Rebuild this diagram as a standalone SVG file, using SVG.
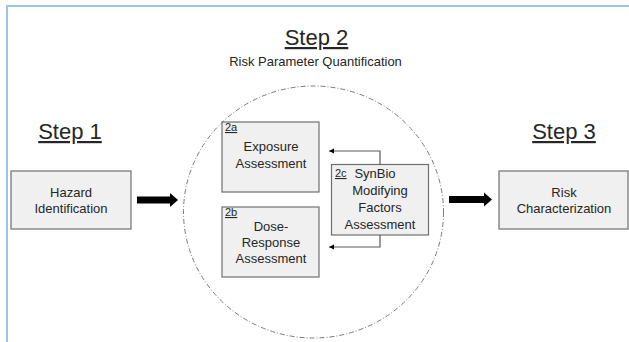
<svg xmlns="http://www.w3.org/2000/svg" width="629" height="342" viewBox="0 0 629 342">
<defs>
<style>
text{font-family:"Liberation Sans",Arial,sans-serif;fill:#262626;}
.step{font-size:22px;text-anchor:middle;text-decoration:underline;}
.sub{font-size:13px;text-anchor:middle;}
.lbl{font-size:13px;text-anchor:middle;}
.tag{font-size:11px;text-decoration:underline;}
.box{fill:#f0f0f0;stroke:#6f6f6f;stroke-width:1.2;}
.conn{fill:none;stroke:#595959;stroke-width:1.2;}
.big{fill:#000;}
</style>
<marker id="ah" markerWidth="6" markerHeight="6" refX="5" refY="3" orient="auto" markerUnits="userSpaceOnUse">
<path d="M0,0.5 L5,3 L0,5.5 Z" fill="#000"/>
</marker>
</defs>
<rect width="629" height="342" fill="#fff"/>
<path d="M7,342 V6 H629" fill="none" stroke="#9dc3e6" stroke-width="2"/>

<g id="titles">
<text class="step" x="316.5" y="45">Step 2</text>
<text class="sub" x="315.5" y="66">Risk Parameter Quantification</text>
<text class="step" x="70" y="139">Step 1</text>
<text class="step" x="564" y="139">Step 3</text>
</g>

<g id="step2-circle">
<ellipse cx="313.5" cy="212" rx="130" ry="126" fill="none" stroke="#7a7a7a" stroke-width="1" stroke-dasharray="5,2,1,2"/>
</g>

<g id="hazard">
<rect class="box" x="11" y="171" width="120" height="58"/>
<text class="lbl" x="71" y="197">Hazard</text>
<text class="lbl" x="71" y="213">Identification</text>
</g>

<g id="risk-char">
<rect class="box" x="499" y="171" width="129" height="58"/>
<text class="lbl" x="564" y="197">Risk</text>
<text class="lbl" x="564" y="213">Characterization</text>
</g>

<g id="exposure">
<rect class="box" x="222" y="122" width="97" height="70"/>
<text class="tag" x="225" y="131">2a</text>
<text class="lbl" x="271" y="151">Exposure</text>
<text class="lbl" x="271" y="168">Assessment</text>
</g>

<g id="dose-response">
<rect class="box" x="222" y="207" width="97" height="70"/>
<text class="tag" x="225" y="216">2b</text>
<text class="lbl" x="271" y="231">Dose-</text>
<text class="lbl" x="271" y="247">Response</text>
<text class="lbl" x="271" y="263">Assessment</text>
</g>

<g id="synbio">
<rect class="box" x="331.5" y="164.5" width="97" height="70.5"/>
<text class="tag" x="335" y="177">2c</text>
<text class="lbl" x="375" y="178">SynBio</text>
<text class="lbl" x="380" y="195">Modifying</text>
<text class="lbl" x="380" y="212">Factors</text>
<text class="lbl" x="380" y="229">Assessment</text>
</g>

<g id="connectors">
<path class="conn" d="M380,164.5 V151 H329" marker-end="url(#ah)"/>
<path class="conn" d="M380,235 V247 H329" marker-end="url(#ah)"/>
<path class="big" d="M137,196.5 H170 V193 L178,200 L170,207 V203.5 H137 Z"/>
<path class="big" d="M449,196 H484 V192.5 L492,199.5 L484,206.5 V203 H449 Z"/>
</g>
</svg>
